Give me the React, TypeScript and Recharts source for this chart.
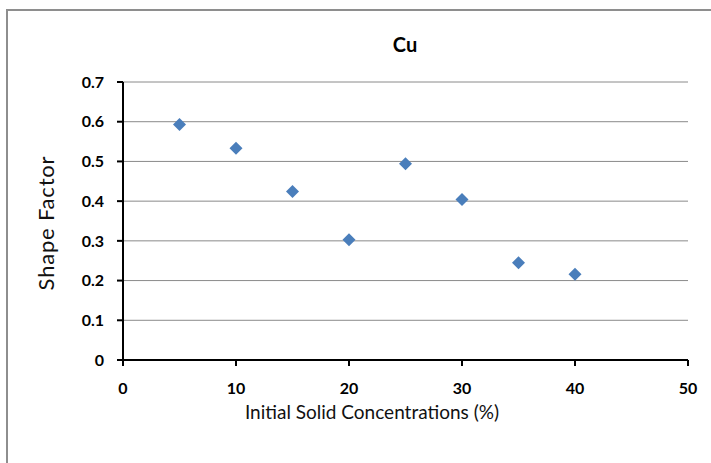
import React from 'react';
import { ScatterChart, Scatter, XAxis, YAxis, CartesianGrid } from 'recharts';

// solid concentration (%) vs shape factor for Cu
const concentrations = [5, 10, 15, 20, 25, 30, 35, 40];
const shapeFactors = [0.593, 0.533, 0.424, 0.303, 0.494, 0.404, 0.245, 0.216];
const xTicks = [0, 10, 20, 30, 40, 50];
const yTicks = [0, 0.1, 0.2, 0.3, 0.4, 0.5, 0.6, 0.7];

const points = concentrations.map((c, i) => ({ x: c, y: shapeFactors[i] }));

const FONT = 'Lato, "Open Sans", sans-serif';

const Diamond = (props: any) => {
  const { cx, cy } = props;
  const r = 6.5;
  return (
    <polygon
      points={`${cx},${cy - r} ${cx + r},${cy} ${cx},${cy + r} ${cx - r},${cy}`}
      fill="#4a7ebb"
    />
  );
};

const App = () => {
  return (
    <div style={{ position: 'absolute', left: 0, top: 0, width: 711, height: 463, background: '#fff', overflow: 'hidden' }}>
      <div
        style={{
          position: 'absolute',
          left: 6,
          top: 9,
          width: 720,
          height: 470,
          borderLeft: '2px solid #8e8e8e',
          borderTop: '2px solid #8e8e8e',
        }}
      />
      <ScatterChart
        width={711}
        height={463}
        margin={{ top: 82, right: 23, left: 63, bottom: 45 }}
        style={{ position: 'absolute', left: 0, top: 0 }}
      >
        <CartesianGrid vertical={false} stroke="#8a8a8a" strokeWidth={1} />
        <XAxis
          type="number"
          dataKey="x"
          domain={[0, 50]}
          ticks={xTicks}
          height={58}
          stroke="#000"
          strokeWidth={2}
          tickSize={6}
          tickMargin={17}
          tick={{ fill: '#000', fontSize: 16, fontWeight: 700, fontFamily: FONT }}
        />
        <YAxis
          type="number"
          dataKey="y"
          domain={[0, 0.7]}
          ticks={yTicks}
          width={60}
          stroke="#000"
          strokeWidth={2}
          tickSize={6}
          tickMargin={13}
          tick={{ fill: '#000', fontSize: 16, fontWeight: 700, fontFamily: FONT }}
        />
        <Scatter data={points} shape={<Diamond />} isAnimationActive={false} />
        <text x={405} y={52} textAnchor="middle" fontSize={20} fontWeight={700} fontFamily={FONT} fill="#000">
          Cu
        </text>
        <text x={372} y={419} textAnchor="middle" fontSize={19} fontFamily={FONT} fill="#111">
          Initial Solid Concentrations (%)
        </text>
        <text
          x={54}
          y={223}
          transform="rotate(-90 54 223)"
          textAnchor="middle"
          fontSize={22}
          letterSpacing={0.8}
          fontFamily={FONT}
          fill="#111"
        >
          Shape Factor
        </text>
      </ScatterChart>
    </div>
  );
};

export default App;
